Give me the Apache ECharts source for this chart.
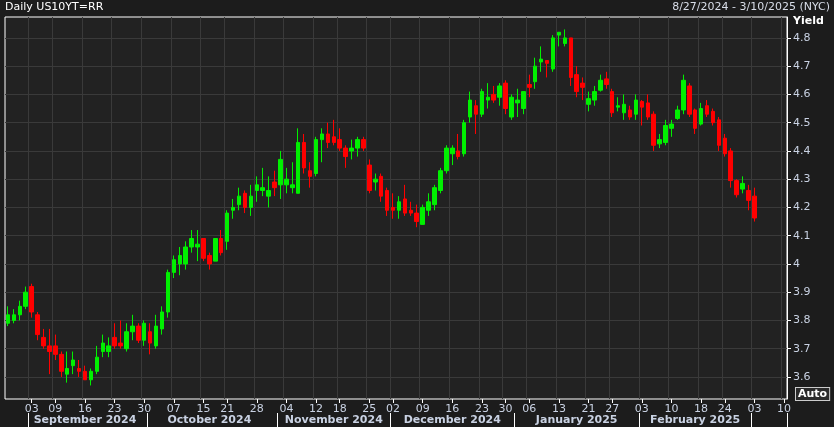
<!DOCTYPE html>
<html><head><meta charset="utf-8">
<script src="https://cdn.jsdelivr.net/npm/echarts@6/dist/echarts.min.js"></script>
<style>html,body{margin:0;padding:0;background:#1c1c1c}#c{width:834px;height:427px}</style>
</head><body><div id="c"></div>
<script>
const title = "Daily US10YT=RR";
const rangeText = "8/27/2024 - 3/10/2025 (NYC)";
const holidays = ["2024-09-02","2024-10-14","2024-11-11","2024-11-28","2024-12-25","2025-01-01","2025-01-20","2025-02-17"];
const monthNames = ["January","February","March","April","May","June","July","August","September","October","November","December"];
const yTicks = [3.6,3.7,3.8,3.9,4.0,4.1,4.2,4.3,4.4,4.5,4.6,4.7,4.8];
const lastPrice = 4.1626;
const opens = [3.79,3.80,3.82,3.85,3.92,3.82,3.74,3.71,3.71,3.68,3.61,3.64,3.63,3.62,3.59,3.62,3.69,3.69,3.74,3.72,3.70,3.76,3.78,3.73,3.76,3.71,3.77,3.83,
3.97,4.00,4.00,4.06,4.06,4.09,4.03,4.01,4.09,4.08,4.19,4.21,4.25,4.20,4.26,4.26,4.24,4.29,4.28,4.28,4.27,4.25,4.43,4.33,4.32,4.44,4.46,4.45,4.44,
4.41,4.40,4.41,4.44,4.35,4.29,4.31,4.26,4.20,4.19,4.23,4.19,4.18,4.14,4.19,4.21,4.26,4.33,4.39,4.40,4.39,4.52,4.56,4.53,4.58,4.60,4.59,4.64,4.52,4.57,4.55,
4.635,4.645,4.715,4.72,4.69,4.81,4.78,4.80,4.67,4.64,4.565,4.58,4.615,4.655,4.61,4.555,4.535,4.545,4.53,4.575,4.57,4.53,4.425,4.43,4.48,4.515,4.545,4.63,4.545,
4.495,4.56,4.54,4.51,4.445,4.40,4.295,4.265,4.26,4.24];
const closes = [3.82,3.82,3.85,3.90,3.83,3.75,3.71,3.69,3.68,3.62,3.63,3.66,3.62,3.59,3.62,3.67,3.72,3.71,3.71,3.71,3.76,3.78,3.73,3.79,3.72,3.78,3.83,3.97,
4.015,4.03,4.06,4.09,4.07,4.02,4.00,4.09,4.04,4.18,4.20,4.24,4.20,4.24,4.28,4.27,4.26,4.27,4.37,4.30,4.28,4.43,4.34,4.31,4.44,4.46,4.43,4.43,4.41,
4.38,4.41,4.44,4.41,4.26,4.30,4.24,4.19,4.19,4.22,4.18,4.18,4.15,4.20,4.22,4.27,4.33,4.41,4.41,4.38,4.50,4.58,4.53,4.61,4.59,4.58,4.63,4.55,4.59,4.58,4.61,
4.625,4.70,4.725,4.71,4.80,4.82,4.80,4.66,4.61,4.625,4.585,4.61,4.65,4.635,4.535,4.56,4.565,4.52,4.58,4.555,4.52,4.42,4.44,4.49,4.495,4.545,4.65,4.53,4.48,
4.55,4.53,4.50,4.42,4.39,4.295,4.245,4.285,4.225,4.1626];
const lows = [3.78,3.79,3.80,3.84,3.81,3.73,3.70,3.61,3.66,3.60,3.58,3.61,3.60,3.59,3.57,3.61,3.67,3.67,3.70,3.70,3.69,3.73,3.72,3.71,3.68,3.70,3.75,3.81,
3.95,3.96,3.98,4.04,4.01,4.01,3.98,4.01,4.03,4.05,4.16,4.19,4.18,4.17,4.22,4.24,4.20,4.24,4.23,4.25,4.25,4.25,4.32,4.27,4.31,4.36,4.41,4.42,4.40,
4.34,4.37,4.38,4.40,4.25,4.26,4.22,4.17,4.16,4.16,4.17,4.17,4.13,4.14,4.17,4.19,4.25,4.32,4.35,4.37,4.38,4.50,4.46,4.52,4.55,4.57,4.56,4.53,4.51,4.52,4.53,
4.59,4.62,4.68,4.66,4.68,4.77,4.77,4.63,4.59,4.58,4.54,4.56,4.61,4.62,4.52,4.54,4.51,4.51,4.51,4.49,4.51,4.40,4.41,4.42,4.45,4.51,4.53,4.52,4.46,
4.49,4.52,4.49,4.40,4.38,4.27,4.235,4.25,4.19,4.15];
const highs = [3.85,3.84,3.87,3.92,3.93,3.83,3.77,3.77,3.75,3.69,3.69,3.69,3.66,3.64,3.63,3.71,3.75,3.74,3.79,3.80,3.79,3.82,3.79,3.80,3.79,3.82,3.85,3.98,
4.03,4.06,4.08,4.12,4.12,4.09,4.04,4.09,4.12,4.19,4.23,4.27,4.26,4.28,4.31,4.34,4.31,4.33,4.40,4.34,4.36,4.48,4.46,4.36,4.45,4.48,4.50,4.51,4.48,
4.42,4.44,4.45,4.45,4.37,4.32,4.32,4.27,4.25,4.24,4.28,4.22,4.21,4.21,4.25,4.28,4.34,4.42,4.42,4.46,4.51,4.61,4.58,4.62,4.64,4.63,4.64,4.65,4.60,4.62,4.61,
4.67,4.73,4.77,4.72,4.81,4.82,4.83,4.80,4.70,4.66,4.61,4.63,4.67,4.68,4.62,4.59,4.60,4.56,4.60,4.58,4.60,4.54,4.46,4.51,4.51,4.56,4.67,4.64,4.55,
4.57,4.58,4.55,4.52,4.46,4.41,4.30,4.31,4.28,4.27];

const dates = [];
{
  let d = new Date(Date.UTC(2024,7,27));
  const end = new Date(Date.UTC(2025,2,10));
  while (d <= end) {
    const dow = d.getUTCDay();
    const iso = d.toISOString().slice(0,10);
    if (dow !== 0 && dow !== 6 && holidays.indexOf(iso) < 0) dates.push(new Date(d));
    d = new Date(d.getTime() + 86400000);
  }
}
const cats = dates.map(d => d.toISOString().slice(0,10));
const weekStart = {}, monthStart = {}, monthMid = {};
dates.forEach((d,i) => {
  if (i > 0 && d.getUTCDay() <= dates[i-1].getUTCDay()) weekStart[i] = true;
  if (i > 0 && d.getUTCMonth() !== dates[i-1].getUTCMonth()) monthStart[i] = true;
});
{
  let s = 0;
  for (let i = 1; i <= dates.length; i++) {
    if (i === dates.length || monthStart[i]) {
      const m = dates[s].getUTCMonth();
      if (m !== 7 && m !== 2) monthMid[Math.floor((s + i - 1) / 2)] = true;
      s = i;
    }
  }
}
const ohlc = opens.map((o,i) => [o, closes[i], lows[i], highs[i]]);

const chart = echarts.init(document.getElementById('c'));
const labelColor = '#c9d2e3';
const font = 'DejaVu Sans';
chart.setOption({
  backgroundColor: '#1c1c1c',
  animation: false,
  grid: { left: 5, right: 47, top: 17, bottom: 28, show: true, backgroundColor: '#222222', borderColor: '#ffffff', borderWidth: 1 },
  xAxis: [{
    type: 'category', data: cats, boundaryGap: true,
    axisLine: { show: false },
    axisTick: { show: true, alignWithLabel: true, length: 4, lineStyle: { color: '#ffffff' }, interval: i => !!weekStart[i] },
    axisLabel: { interval: i => !!weekStart[i], color: labelColor, fontFamily: font, fontSize: 11, margin: 5,
      formatter: v => v.slice(8,10) },
    splitLine: { show: true, interval: i => !!weekStart[i], lineStyle: { color: '#3a3a3a', width: 1 } }
  }, {
    type: 'category', data: cats, boundaryGap: true, position: 'bottom', offset: 14,
    axisLine: { show: false },
    axisTick: { show: true, length: 14, interval: i => !!monthStart[i], lineStyle: { color: '#ffffff' } },
    axisLabel: { interval: i => !!monthMid[i], color: labelColor, fontFamily: font, fontSize: 11, fontWeight: 'bold', margin: 2,
      formatter: v => { const d = new Date(v + 'T00:00:00Z'); return monthNames[d.getUTCMonth()] + ' ' + d.getUTCFullYear(); } },
    splitLine: { show: false }
  }],
  yAxis: {
    type: 'value', position: 'right', min: 3.522, max: 4.874, scale: true,
    axisLine: { show: true, lineStyle: { color: '#ffffff' } },
    axisTick: { show: true, length: 4, customValues: yTicks, lineStyle: { color: '#ffffff' } },
    axisLabel: { customValues: yTicks, color: labelColor, fontFamily: font, fontSize: 11, margin: 6,
      formatter: v => Math.abs(v - 4) < 1e-6 ? '4' : v.toFixed(1) },
    splitLine: { show: true, lineStyle: { color: '#3a3a3a', width: 1 } }
  },
  series: [{
    type: 'candlestick', data: ohlc, barWidth: 4,
    itemStyle: { color: '#00f000', color0: '#ff0000', borderColor: '#00f000', borderColor0: '#ff0000', borderWidth: 1 },
    markLine: {
      silent: true, symbol: ['none','none'], data: [{ yAxis: lastPrice }],
      lineStyle: { width: 1, opacity: 0, type: 'solid' },
      label: { show: true, position: 'end', distance: 1, formatter: String(lastPrice), backgroundColor: '#ff0000', color: '#000000',
        fontFamily: font, fontWeight: 'bold', fontSize: 11, padding: [1, 4, 0, 2] }
    }
  }],
  graphic: [
    { type: 'text', left: 5, top: 2, style: { text: title, fill: '#ffffff', font: '11px "DejaVu Sans"' } },
    { type: 'text', right: 4, top: 2, style: { text: rangeText, fill: '#d8dde8', font: '11px "DejaVu Sans"' } },
    { type: 'text', left: 793, top: 16, style: { text: 'Yield', fill: '#ffffff', font: 'bold 11px "DejaVu Sans"' } },
    { type: 'text', left: 795, top: 387, style: { text: 'Auto', fill: '#ffffff', font: 'bold 11px "DejaVu Sans"',
        borderColor: '#cccccc', borderWidth: 1, padding: [1, 2, 0, 2], backgroundColor: '#2a2a2a' } }
  ]
});
</script></body></html>
